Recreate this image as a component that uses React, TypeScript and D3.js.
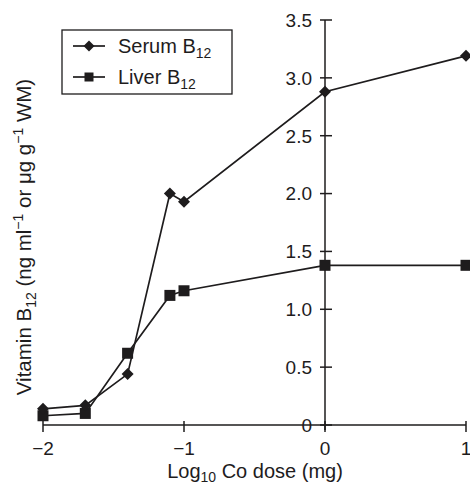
import React from "react";
import * as d3 from "d3";

const doses = [-2, -1.7, -1.4, -1.1, -1.0, 0, 1];
const serumB12 = [0.14, 0.17, 0.44, 2.0, 1.93, 2.88, 3.19];
const liverB12 = [0.08, 0.1, 0.62, 1.12, 1.16, 1.38, 1.38];
const xTicks = [-2, -1, 0, 1];
const yTicks = [0, 0.5, 1, 1.5, 2, 2.5, 3, 3.5];

const W = 470;
const H = 486;
const INK = "#1e1c1d";
const FONT = "'Liberation Sans', Arial, Helvetica, sans-serif";

export default function App() {
  const x = d3.scaleLinear().domain([-2, 1]).range([43, 466]);
  const y = d3.scaleLinear().domain([0, 3.5]).range([425, 20]);
  const line = d3
    .line<number>()
    .x((_, i) => x(doses[i]))
    .y((d) => y(d));
  const diamond = (cx: number, cy: number, r: number) =>
    `M${cx},${cy - r}L${cx + r},${cy}L${cx},${cy + r}L${cx - r},${cy}Z`;
  const fmtX = (v: number) => (v < 0 ? "\u2212" + Math.abs(v) : String(v));
  const fmtY = (v: number) => (v === 0 ? "0" : v.toFixed(1));
  const x0 = x(0);
  const yBase = y(0);

  return (
    <svg
      width={W}
      height={H}
      style={{ position: "absolute", left: 0, top: 0, background: "#fff" }}
      fontFamily={FONT}
    >
      <rect x={0} y={0} width={W} height={H} fill="#fff" />
      {/* x axis */}
      <line x1={x(-2)} x2={x(1)} y1={yBase} y2={yBase} stroke={INK} strokeWidth={1.5} />
      {xTicks.map((t) => (
        <g key={"xt" + t}>
          <line x1={x(t)} x2={x(t)} y1={yBase - 4} y2={yBase + 7} stroke={INK} strokeWidth={1.5} />
          <text x={x(t)} y={455} textAnchor="middle" fontSize={19} fill={INK}>
            {fmtX(t)}
          </text>
        </g>
      ))}
      {/* y axis */}
      <line x1={x0} x2={x0} y1={y(3.5)} y2={yBase + 5} stroke={INK} strokeWidth={1.5} />
      {yTicks.map((t) => (
        <g key={"yt" + t}>
          <line x1={x0 - 5} x2={x0 + 7} y1={y(t)} y2={y(t)} stroke={INK} strokeWidth={1.5} />
          <text x={312} y={y(t)} dy="0.36em" textAnchor="end" fontSize={19} fill={INK}>
            {fmtY(t)}
          </text>
        </g>
      ))}
      {/* series lines */}
      <path d={line(serumB12) || ""} fill="none" stroke={INK} strokeWidth={1.7} />
      <path d={line(liverB12) || ""} fill="none" stroke={INK} strokeWidth={1.7} />
      {liverB12.map((v, i) => (
        <rect key={"lv" + i} x={x(doses[i]) - 5.5} y={y(v) - 5.5} width={11} height={11} fill={INK} />
      ))}
      {serumB12.map((v, i) => (
        <path key={"sv" + i} d={diamond(x(doses[i]), y(v), 6)} fill={INK} />
      ))}
      {/* legend */}
      <rect x={62} y={30} width={170} height={64} fill="#fff" stroke={INK} strokeWidth={1.3} />
      <line x1={73} x2={105} y1={46} y2={46} stroke={INK} strokeWidth={1.7} />
      <path d={diamond(89, 46, 5.5)} fill={INK} />
      <text x={118} y={46} dy="0.36em" fontSize={20} fill={INK}>
        Serum B<tspan fontSize={14} dy="5">12</tspan>
      </text>
      <line x1={73} x2={105} y1={77} y2={77} stroke={INK} strokeWidth={1.7} />
      <rect x={84.5} y={72.5} width={9} height={9} fill={INK} />
      <text x={118} y={77} dy="0.36em" fontSize={20} fill={INK}>
        Liver B<tspan fontSize={14} dy="5">12</tspan>
      </text>
      {/* x title */}
      <text x={255} y={478} textAnchor="middle" fontSize={20} fill={INK}>
        Log<tspan fontSize={14} dy="4">10</tspan>
        <tspan dy="-4"> Co dose (mg)</tspan>
      </text>
      {/* y title */}
      <text
        transform={`translate(31,${237}) rotate(-90)`}
        textAnchor="middle"
        fontSize={20.5}
        fill={INK}
      >
        Vitamin B<tspan fontSize={14} dy="5">12</tspan>
        <tspan dy="-5"> (ng ml</tspan>
        <tspan fontSize={14} dy="-8">{"\u22121"}</tspan>
        <tspan dy="8"> or μg g</tspan>
        <tspan fontSize={14} dy="-8">{"\u22121"}</tspan>
        <tspan dy="8"> WM)</tspan>
      </text>
    </svg>
  );
}
